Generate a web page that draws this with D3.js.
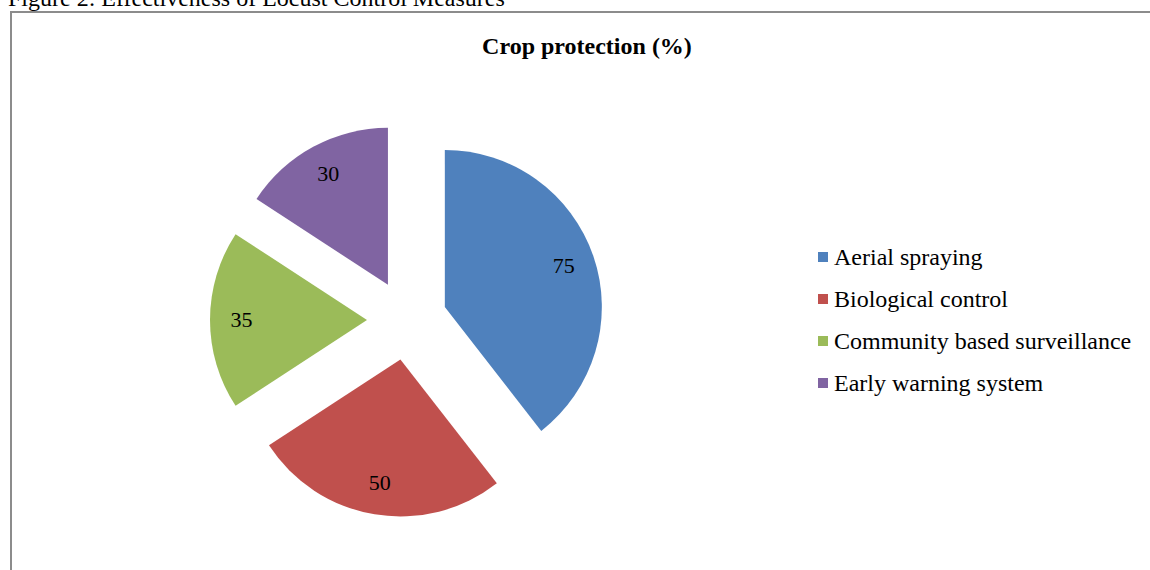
<!DOCTYPE html>
<html>
<head>
<meta charset="utf-8">
<script src="https://cdn.jsdelivr.net/npm/d3@7"></script>
<style>
  body { margin: 0; background: #fff; }
  text { font-family: "Liberation Serif", "Times New Roman", serif; }
</style>
</head>
<body>
<div id="chart"></div>
<script>
/* DATA */
const categories = ["Aerial spraying", "Biological control", "Community based surveillance", "Early warning system"];
const values = [75, 50, 35, 30];
const colors = ["#4F81BD", "#C0504D", "#9BBB59", "#8064A2"];
const chartTitle = "Crop protection (%)";
const caption = "Figure 2: Effectiveness of Locust Control Measures";

/* LAYOUT */
const width = 1150,
  height = 570,
  cx = 407,
  cy = 320,
  radius = 157,
  explode = 40;

const svg = d3.select("#chart")
  .append("svg")
  .attr("width", width)
  .attr("height", height);

// caption (cut off at top in the source)
svg.append("text")
  .attr("x", 8)
  .attr("y", 6)
  .attr("font-size", 24)
  .attr("fill", "#000")
  .text(caption);

// chart frame
svg.append("rect")
  .attr("x", 11)
  .attr("y", 12)
  .attr("width", 1160)
  .attr("height", 600)
  .attr("fill", "none")
  .attr("stroke", "#8c8c8c")
  .attr("stroke-width", 2);

svg.append("text")
  .attr("x", 587)
  .attr("y", 54)
  .attr("text-anchor", "middle")
  .attr("font-size", 24)
  .attr("font-weight", "bold")
  .text(chartTitle);

// pie
const pie = d3.pie().sort(null).value(d => d.value);
const arcs = pie(categories.map((c, i) => ({ name: c, value: values[i], color: colors[i] })));
const arc = d3.arc().innerRadius(0).outerRadius(radius);
const labelArc = d3.arc().innerRadius(radius * 0.8).outerRadius(radius * 0.8);

const offset = d => {
  const a = (d.startAngle + d.endAngle) / 2;
  return [Math.sin(a) * explode, -Math.cos(a) * explode];
};

const g = svg.append("g").attr("transform", `translate(${cx},${cy})`);

const slice = g.selectAll("g.slice")
  .data(arcs)
  .join("g")
  .attr("class", "slice")
  .attr("transform", d => `translate(${offset(d)})`);

slice.append("path")
  .attr("d", arc)
  .attr("fill", d => d.data.color);

slice.append("text")
  .attr("transform", d => `translate(${labelArc.centroid(d)})`)
  .attr("text-anchor", "middle")
  .attr("dy", "0.3em")
  .attr("font-size", 22)
  .text(d => d.data.value);

// legend
const yLegend = d3.scalePoint()
  .domain(categories)
  .range([257, 383]);

const legend = svg.selectAll("g.legend")
  .data(categories)
  .join("g")
  .attr("class", "legend")
  .attr("transform", d => `translate(818,${yLegend(d)})`);

legend.append("rect")
  .attr("x", 0)
  .attr("y", -5)
  .attr("width", 10)
  .attr("height", 10)
  .attr("fill", (d, i) => colors[i]);

legend.append("text")
  .attr("x", 16)
  .attr("dy", "0.33em")
  .attr("font-size", 24)
  .text(d => d);
</script>
</body>
</html>
